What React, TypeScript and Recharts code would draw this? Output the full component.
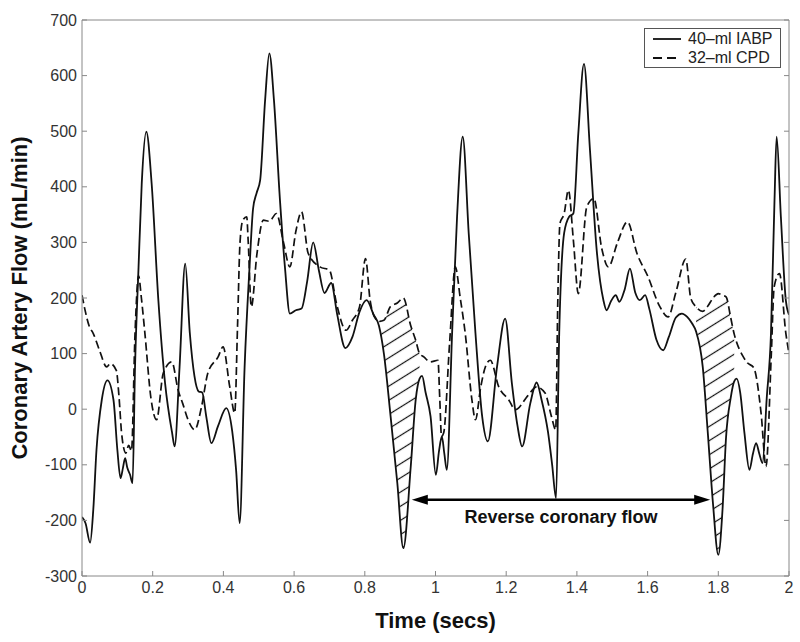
import { ComposedChart, Line, Area, XAxis, YAxis, ReferenceLine } from "recharts";

const font = '"Liberation Sans", Arial, Helvetica, sans-serif';

const timeTicks = [0, 0.2, 0.4, 0.6, 0.8, 1, 1.2, 1.4, 1.6, 1.8, 2];
const flowTicks = [-300, -200, -100, 0, 100, 200, 300, 400, 500, 600, 700];

// 40-ml IABP, [time (s), flow (mL/min)]
const iabp: [number, number][] = [
  [0, -194], [0.01, -205], [0.023, -240], [0.032, -180], [0.041, -73], [0.056, 17],
  [0.072, 52], [0.089, 17], [0.1, -73], [0.109, -124], [0.116, -105], [0.122, -88],
  [0.128, -105], [0.136, -118], [0.143, -133], [0.15, 76], [0.16, 256], [0.169, 406],
  [0.182, 499], [0.197, 406], [0.216, 196], [0.235, 47], [0.255, -43], [0.262, -67],
  [0.276, 76], [0.292, 262], [0.305, 137], [0.318, 60], [0.33, 32], [0.34, 30],
  [0.352, -15], [0.366, -61], [0.385, -30], [0.408, 2], [0.425, -40], [0.436, -110],
  [0.446, -205], [0.46, 76], [0.474, 256], [0.484, 361], [0.494, 389], [0.504, 412],
  [0.518, 556], [0.53, 640], [0.543, 556], [0.56, 376], [0.574, 256], [0.588, 172],
  [0.605, 178], [0.621, 181], [0.637, 230], [0.654, 300], [0.67, 250], [0.686, 209],
  [0.705, 227], [0.722, 170], [0.745, 110], [0.765, 130], [0.785, 175], [0.805, 196],
  [0.825, 170], [0.84, 150], [0.854, 100], [0.873, -13], [0.892, -133], [0.909, -250],
  [0.93, -103], [0.944, 17], [0.955, 55], [0.962, 60], [0.972, 30], [0.986, -13],
  [1.001, -118], [1.01, -75], [1.018, -49], [1.025, -80], [1.032, -109], [1.047, 137],
  [1.061, 346], [1.077, 490], [1.094, 316], [1.113, 137], [1.132, -13], [1.148, -58],
  [1.174, 76], [1.197, 163], [1.216, 47], [1.232, -30], [1.245, -67], [1.268, 10],
  [1.286, 48], [1.3, 17], [1.318, -40], [1.33, -100], [1.341, -160], [1.35, 137],
  [1.364, 317], [1.378, 346], [1.39, 352], [1.404, 496], [1.42, 621], [1.437, 466],
  [1.456, 286], [1.475, 196], [1.484, 178], [1.497, 195], [1.51, 205], [1.52, 193],
  [1.535, 215], [1.55, 253], [1.565, 210], [1.578, 196], [1.593, 205], [1.605, 180],
  [1.625, 125], [1.644, 106], [1.66, 130], [1.68, 165], [1.697, 172], [1.712, 166],
  [1.726, 154], [1.737, 140], [1.756, 76], [1.77, -40], [1.785, -170], [1.8, -262],
  [1.812, -180], [1.822, -50], [1.835, 20], [1.845, 50], [1.852, 55], [1.862, 30],
  [1.874, -43], [1.888, -109], [1.898, -80], [1.907, -61], [1.916, -80], [1.925, -97],
  [1.937, 20], [1.949, 136], [1.959, 376], [1.965, 490], [1.977, 346], [1.991, 196],
  [2, 170],
];

// 32-ml CPD, [time (s), flow (mL/min)]
const cpd: [number, number][] = [
  [0, 205], [0.008, 180], [0.02, 150], [0.032, 136], [0.05, 105], [0.07, 76],
  [0.08, 82], [0.097, 70], [0.105, 20], [0.112, -43], [0.124, -79], [0.132, -65],
  [0.14, -75], [0.15, 136], [0.16, 240], [0.168, 200], [0.178, 136], [0.195, 20],
  [0.211, -19], [0.23, 65], [0.254, 85], [0.272, 34], [0.285, 10], [0.3, -19],
  [0.319, -37], [0.338, 4], [0.356, 65], [0.385, 94], [0.399, 112], [0.418, 40],
  [0.432, -7], [0.44, 150], [0.447, 300], [0.455, 340], [0.466, 346], [0.47, 304],
  [0.479, 184], [0.495, 280], [0.513, 340], [0.53, 338], [0.55, 352], [0.57, 300],
  [0.588, 256], [0.605, 320], [0.621, 355], [0.64, 280], [0.673, 256], [0.7, 250],
  [0.72, 190], [0.747, 142], [0.765, 160], [0.785, 184], [0.802, 271], [0.815, 196],
  [0.828, 165], [0.84, 158], [0.854, 160], [0.873, 185], [0.892, 191], [0.909, 200],
  [0.93, 150], [0.944, 124], [0.955, 100], [0.967, 94], [0.985, 85], [1.007, 88],
  [1.012, 20], [1.017, -49], [1.023, -43], [1.04, 120], [1.056, 256], [1.07, 200],
  [1.084, 137], [1.103, 17], [1.113, -19], [1.128, 40], [1.141, 76], [1.155, 88],
  [1.179, 40], [1.207, 17], [1.226, -1], [1.262, 25], [1.286, 40], [1.31, 29],
  [1.328, -13], [1.34, -37], [1.346, 196], [1.352, 334], [1.364, 352], [1.376, 394],
  [1.39, 304], [1.404, 208], [1.428, 364], [1.448, 379], [1.47, 290], [1.489, 256],
  [1.515, 300], [1.543, 337], [1.57, 280], [1.6, 240], [1.635, 184], [1.658, 166],
  [1.68, 210], [1.708, 270], [1.722, 200], [1.737, 184], [1.756, 176], [1.77, 185],
  [1.785, 200], [1.8, 208], [1.812, 205], [1.822, 202], [1.835, 165], [1.845, 135],
  [1.85, 124], [1.87, 95], [1.883, 83], [1.9, 75], [1.921, -7], [1.935, -103],
  [1.95, 100], [1.958, 220], [1.973, 244], [1.991, 137], [2, 100],
];

// time points where the gap between the two curves is hatched
const hatchA = [0.84, 0.854, 0.873, 0.892, 0.909, 0.93, 0.944, 0.955];
const hatchB = [1.737, 1.756, 1.77, 1.785, 1.8, 1.812, 1.822, 1.835, 1.845];

const arrowFrom = 0.933;
const arrowTo = 1.777;
const arrowFlow = -163;

const valueAt = (series: [number, number][], t: number) =>
  (series.find((p) => p[0] === t) as [number, number])[1];

const toRows = (series: [number, number][]) => series.map(([t, flow]) => ({ t, flow }));

const toBand = (times: number[]) =>
  times.map((t) => ({ t, range: [valueAt(iabp, t), valueAt(cpd, t)] }));

const legendItems = [
  { name: "40–ml IABP", dash: undefined },
  { name: "32–ml CPD", dash: "9 5" },
];

const ReverseArrow = (props: any) => {
  const { x1, x2, y1 } = props;
  const y = y1;
  const head = 16;
  const half = 5;
  return (
    <g>
      <line x1={x1 + head - 2} y1={y} x2={x2 - head + 2} y2={y} stroke="#000" strokeWidth={2.5} />
      <polygon points={`${x1},${y} ${x1 + head},${y - half} ${x1 + head},${y + half}`} fill="#000" />
      <polygon points={`${x2},${y} ${x2 - head},${y - half} ${x2 - head},${y + half}`} fill="#000" />
      <text
        x={(x1 + x2) / 2}
        y={y + 23}
        textAnchor="middle"
        fontFamily={font}
        fontWeight="bold"
        fontSize={18}
        fill="#111"
      >
        Reverse coronary flow
      </text>
    </g>
  );
};

const tickStyle = { fill: "#333", fontSize: 16, fontFamily: font };

export default function App() {
  return (
    <div style={{ position: "absolute", left: 0, top: 0, width: 800, height: 642, background: "#fff" }}>
      <ComposedChart width={800} height={642} margin={{ top: 0, right: 0, bottom: 0, left: 0 }}>
        <defs>
          <pattern id="hatch" patternUnits="userSpaceOnUse" width={12} height={12} patternTransform="rotate(-32)">
            <line x1={0} y1={5.5} x2={12} y2={5.5} stroke="#111" strokeWidth={1.2} />
          </pattern>
        </defs>
        <XAxis
          dataKey="t"
          type="number"
          domain={[0, 2]}
          ticks={timeTicks}
          interval={0}
          allowDataOverflow
          height={66}
          tickSize={-5}
          tickMargin={11}
          stroke="#888"
          tick={tickStyle}
          label={{
            value: "Time (secs)",
            position: "insideBottom",
            offset: 14,
            style: { fontFamily: font, fontWeight: "bold", fontSize: 22, fill: "#111" },
          }}
        />
        <XAxis
          xAxisId="top"
          orientation="top"
          type="number"
          domain={[0, 2]}
          ticks={timeTicks}
          interval={0}
          allowDataOverflow
          height={20}
          tickSize={-5}
          stroke="#888"
          tickFormatter={() => ""}
        />
        <YAxis
          type="number"
          domain={[-300, 700]}
          ticks={flowTicks}
          interval={0}
          allowDataOverflow
          width={82}
          tickSize={-5}
          tickMargin={10}
          stroke="#888"
          tick={tickStyle}
          label={{
            value: "Coronary Artery Flow (mL/min)",
            angle: -90,
            position: "insideLeft",
            offset: 19,
            style: { textAnchor: "middle", fontFamily: font, fontWeight: "bold", fontSize: 22, fill: "#111" },
          }}
        />
        <YAxis
          yAxisId="right"
          orientation="right"
          type="number"
          domain={[-300, 700]}
          ticks={flowTicks}
          interval={0}
          allowDataOverflow
          width={11}
          tickSize={-5}
          stroke="#888"
          tickFormatter={() => ""}
        />
        <Area
          data={toBand(hatchA)}
          dataKey="range"
          type="monotone"
          stroke="none"
          fill="url(#hatch)"
          fillOpacity={1}
          isAnimationActive={false}
        />
        <Area
          data={toBand(hatchB)}
          dataKey="range"
          type="monotone"
          stroke="none"
          fill="url(#hatch)"
          fillOpacity={1}
          isAnimationActive={false}
        />
        <Line
          data={toRows(cpd)}
          dataKey="flow"
          type="monotone"
          stroke="#111"
          strokeWidth={1.7}
          strokeDasharray="8 4"
          dot={false}
          isAnimationActive={false}
        />
        <Line
          data={toRows(iabp)}
          dataKey="flow"
          type="monotone"
          stroke="#111"
          strokeWidth={1.8}
          dot={false}
          isAnimationActive={false}
        />
        <ReferenceLine
          segment={[
            { x: arrowFrom, y: arrowFlow },
            { x: arrowTo, y: arrowFlow },
          ]}
          shape={ReverseArrow}
        />
      </ComposedChart>
      <div
        style={{
          position: "absolute",
          left: 644,
          top: 28,
          width: 135,
          height: 38,
          border: "1px solid #555",
          background: "#fff",
          fontFamily: font,
          fontSize: 16,
          color: "#222",
        }}
      >
        {legendItems.map((item, i) => (
          <div
            key={item.name}
            style={{ position: "absolute", left: 8, top: i * 19, height: 19, display: "flex", alignItems: "center" }}
          >
            <svg width={28} height={4}>
              <line x1={0} y1={2} x2={28} y2={2} stroke="#111" strokeWidth={1.8} strokeDasharray={item.dash} />
            </svg>
            <span style={{ marginLeft: 7, lineHeight: "19px", whiteSpace: "nowrap" }}>{item.name}</span>
          </div>
        ))}
      </div>
    </div>
  );
}
